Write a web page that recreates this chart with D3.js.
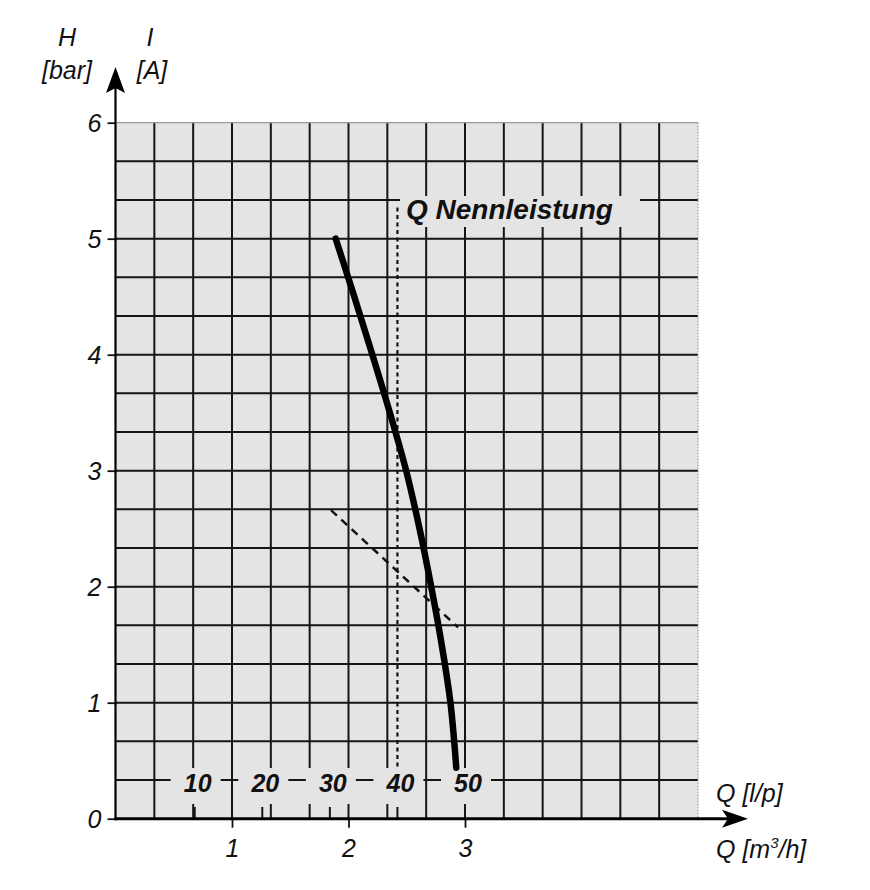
<!DOCTYPE html>
<html lang="de">
<head>
    <meta charset="utf-8">
    <title>Pumpenkennlinie</title>
    <script src="https://d3js.org/d3.v7.min.js" charset="utf-8"></script>
    <style>
        body { margin: 0; background: #fff; }
        text { font-family: "Liberation Sans", Arial, sans-serif; font-style: italic; fill: #111; }
    </style>
</head>
<body>

    <script>

    // Kennlinie H(Q)
    var curveQ = [1.89, 2.05, 2.205, 2.355, 2.495, 2.61, 2.71, 2.80, 2.875, 2.925]
    var curveH = [5.0, 4.5, 4.0, 3.5, 3.0, 2.5, 2.0, 1.5, 1.0, 0.44]

    // Stromaufnahme I(Q), gestrichelt
    var currentQ = [1.85, 2.94]
    var currentI = [2.66, 1.65]

    // Nennleistung bei 40 l/p
    var nennLp = 40
    var nennH = [0.42, 5.27]

    var yTicks = [0, 1, 2, 3, 4, 5, 6]
    var qTicks = [1, 2, 3]
    var lpTicks = [10, 20, 30, 40, 50]

    var w = 870, h = 890
    var bg = "#e4e4e4"

    var x = d3.scaleLinear().domain([0, 5]).range([115.5, 698])
    var y = d3.scaleLinear().domain([0, 6]).range([818.7, 122.7])
    // l/p scale sits a little offset against m3/h
    var xLp = d3.scaleLinear().domain([0, 50]).range([x(0.1), x(3.0)])

    var svg = d3.select("body").append("svg").attr("width", w).attr("height", h)
    svg.append("rect").attr("width", w).attr("height", h).attr("fill", "#fff")

    // grid paper
    svg.append("rect")
        .attr("x", x(0)).attr("y", y(6))
        .attr("width", x(5) - x(0)).attr("height", y(0) - y(6))
        .attr("fill", bg)

    var grid = svg.append("g")
    var vLines = d3.range(1, 15).map(function (i) { return i / 3 })
    var hLines = d3.range(1, 18).map(function (i) { return i / 3 })

    grid.selectAll(".v").data(vLines).enter().append("line")
        .attr("x1", function (d) { return x(d) }).attr("x2", function (d) { return x(d) })
        .attr("y1", y(6)).attr("y2", y(0))
        .attr("stroke", "#151515").attr("stroke-width", 2)
    grid.selectAll(".h").data(hLines).enter().append("line")
        .attr("x1", x(0)).attr("x2", x(5))
        .attr("y1", function (d) { return y(d) }).attr("y2", function (d) { return y(d) })
        .attr("stroke", "#151515").attr("stroke-width", 2)

    // faint outer edges of the paper
    grid.append("line").attr("x1", x(0)).attr("x2", x(5)).attr("y1", y(6)).attr("y2", y(6))
        .attr("stroke", "#9a9a9a").attr("stroke-width", 1.2)
    grid.append("line").attr("x1", x(5)).attr("x2", x(5)).attr("y1", y(6)).attr("y2", y(0))
        .attr("stroke", "#9a9a9a").attr("stroke-width", 1.2).attr("stroke-dasharray", "1.5,1.5")

    // knockouts behind the l/p labels
    svg.selectAll(".lpbg").data(lpTicks).enter().append("rect")
        .attr("x", function (d) { return xLp(d) - 24 }).attr("y", 768)
        .attr("width", 50).attr("height", 36)
        .attr("fill", bg)

    svg.selectAll(".lptick").data(lpTicks).enter().append("line")
        .attr("x1", function (d) { return xLp(d) }).attr("x2", function (d) { return xLp(d) })
        .attr("y1", 807).attr("y2", y(0))
        .attr("stroke", "#151515").attr("stroke-width", 2)

    svg.selectAll(".lplab").data(lpTicks).enter().append("text")
        .attr("x", function (d) { return xLp(d) + 3 }).attr("y", 792)
        .attr("text-anchor", "middle")
        .attr("font-size", 25).attr("font-weight", "bold")
        .text(function (d) { return d })

    // knockout behind "Q Nennleistung"
    svg.append("rect").attr("x", 400).attr("y", 196).attr("width", 240).attr("height", 31).attr("fill", bg)

    // Nennleistung dashed vertical
    var nennQ = x.invert(xLp(nennLp))
    svg.append("line")
        .attr("x1", x(nennQ)).attr("x2", x(nennQ))
        .attr("y1", y(nennH[1])).attr("y2", y(nennH[0]))
        .attr("stroke", "#111").attr("stroke-width", 2.2).attr("stroke-dasharray", "4,3.5")

    svg.append("text").attr("x", 406).attr("y", 219)
        .attr("font-size", 28).attr("font-weight", "bold")
        .text("Q Nennleistung")

    // I(Q) dashed line
    var line = d3.line()
        .x(function (d) { return x(d[0]) })
        .y(function (d) { return y(d[1]) })

    svg.append("path").datum(d3.zip(currentQ, currentI))
        .attr("d", line).attr("fill", "none")
        .attr("stroke", "#111").attr("stroke-width", 2.5).attr("stroke-dasharray", "8,6")

    // H(Q) curve
    svg.append("path").datum(d3.zip(curveQ, curveH))
        .attr("d", line.curve(d3.curveCatmullRom))
        .attr("fill", "none").attr("stroke", "#000").attr("stroke-width", 6.5)
        .attr("stroke-linecap", "round")

    // axes
    var yAxis = d3.axisLeft(y).tickValues(yTicks).tickFormat(d3.format("d")).tickSize(8).tickPadding(6)
    var gy = svg.append("g").attr("transform", "translate(" + x(0) + ",0)").call(yAxis)
    gy.select(".domain").remove()
    gy.selectAll("line").attr("stroke", "#111").attr("stroke-width", 1.8)
    gy.selectAll("text").attr("font-size", 25).attr("font-family", null).attr("fill", "#111")
        .attr("dy", "0.36em")

    var xAxis = d3.axisBottom(x).tickValues(qTicks).tickFormat(d3.format("d")).tickSize(9).tickPadding(12)
    var gx = svg.append("g").attr("transform", "translate(0," + y(0) + ")").call(xAxis)
    gx.select(".domain").remove()
    gx.selectAll("line").attr("stroke", "#111").attr("stroke-width", 1.8)
    gx.selectAll("text").attr("font-size", 25).attr("font-family", null).attr("fill", "#111")

    // axis lines with arrows
    svg.append("line").attr("x1", x(0)).attr("x2", x(0)).attr("y1", y(0) + 1.5).attr("y2", 80)
        .attr("stroke", "#000").attr("stroke-width", 2.2)
    svg.append("path").attr("d", "M" + x(0) + ",67 L" + (x(0) + 9.5) + ",93 L" + x(0) + ",88 L" + (x(0) - 9.5) + ",93 Z")
        .attr("fill", "#000")

    svg.append("line").attr("x1", x(0) - 1).attr("x2", 735).attr("y1", y(0)).attr("y2", y(0))
        .attr("stroke", "#000").attr("stroke-width", 3)
    svg.append("path").attr("d", "M748," + y(0) + " L722," + (y(0) - 9) + " L728," + y(0) + " L722," + (y(0) + 9) + " Z")
        .attr("fill", "#000")

    // axis titles
    svg.append("text").attr("x", 67).attr("y", 46).attr("text-anchor", "middle").attr("font-size", 25).text("H")
    svg.append("text").attr("x", 67).attr("y", 79).attr("text-anchor", "middle").attr("font-size", 25).text("[bar]")
    svg.append("text").attr("x", 150).attr("y", 46).attr("text-anchor", "middle").attr("font-size", 25).text("I")
    svg.append("text").attr("x", 152).attr("y", 79).attr("text-anchor", "middle").attr("font-size", 25).text("[A]")

    svg.append("text").attr("x", 716).attr("y", 802).attr("font-size", 25).text("Q [l/p]")
    var qm = svg.append("text").attr("x", 716).attr("y", 858).attr("font-size", 25)
    qm.append("tspan").text("Q [m")
    qm.append("tspan").attr("font-size", 15).attr("dy", -10).text("3")
    qm.append("tspan").attr("dy", 10).text("/h]")

    </script>

</body>
</html>
